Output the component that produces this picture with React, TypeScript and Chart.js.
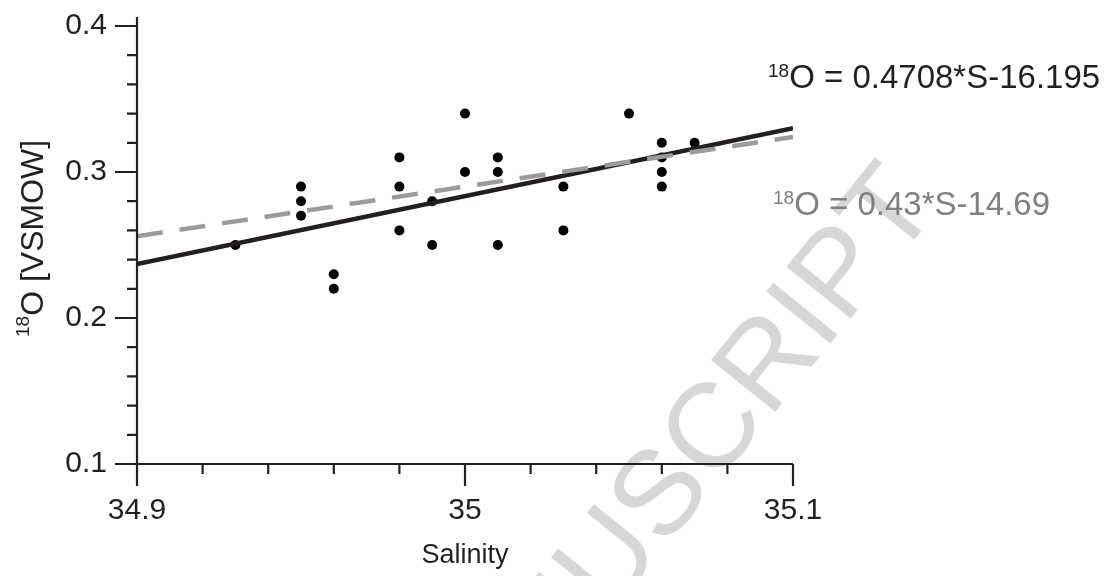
import React, { useEffect, useRef } from 'react';
import { Chart, registerables } from 'chart.js';

Chart.register(...registerables);

// ---- data ----
const salinity = [34.93, 34.95, 34.95, 34.95, 34.96, 34.96, 34.98, 34.98, 34.98, 34.99, 34.99, 35.0, 35.0, 35.01, 35.01, 35.01, 35.03, 35.03, 35.05, 35.06, 35.06, 35.06, 35.06, 35.07];
const delta18O = [0.25, 0.29, 0.28, 0.27, 0.23, 0.22, 0.31, 0.29, 0.26, 0.28, 0.25, 0.34, 0.3, 0.31, 0.3, 0.25, 0.29, 0.26, 0.34, 0.32, 0.31, 0.3, 0.29, 0.32];
const fitSalinity = [34.9, 35.1];
const fitBlack = [0.237, 0.33];
const fitGray = [0.256, 0.324];
const xMajorTicks = [34.9, 35, 35.1];
const yMajorTicks = [0.1, 0.2, 0.3, 0.4];
const eqBlack = ['18', 'O = 0.4708*S-16.195'];
const eqGray = ['18', 'O = 0.43*S-14.69'];
const yTitle = ['18', 'O [VSMOW]'];
const xTitle = 'Salinity';
const watermark = 'ACCEPTED MANUSCRIPT';

const FONT = '"Liberation Sans", Arial, Helvetica, sans-serif';
const INK = '#231f20';
const GRAY_LINE = '#9b9b9b';
const GRAY_TEXT = '#808080';
const WATERMARK = '#d7d7d7';

const isMajor = (v: number, list: number[]) => list.some((m) => Math.abs(m - v) < 1e-6);

function drawSup(ctx: CanvasRenderingContext2D, parts: string[], supSize: number, mainSize: number, raise: number) {
  ctx.textAlign = 'left';
  ctx.textBaseline = 'alphabetic';
  ctx.font = `${supSize}px ${FONT}`;
  ctx.fillText(parts[0], 0, -raise);
  const w = ctx.measureText(parts[0]).width;
  ctx.font = `${mainSize}px ${FONT}`;
  ctx.fillText(parts[1], w, 0);
}

const customPlugin = {
  id: 'customAxes',
  beforeDraw(chart: any) {
    const { ctx } = chart;
    ctx.save();
    ctx.translate(941, 207);
    ctx.rotate((-51 * Math.PI) / 180);
    ctx.font = `120px ${FONT}`;
    ctx.fillStyle = WATERMARK;
    ctx.textAlign = 'right';
    ctx.textBaseline = 'alphabetic';
    ctx.fillText(watermark, 0, 0);
    ctx.restore();
  },
  afterDraw(chart: any) {
    const { ctx, chartArea: a, scales } = chart;
    const x = scales.x;
    const y = scales.y;
    ctx.save();
    ctx.strokeStyle = INK;
    ctx.lineWidth = 2.2;
    ctx.lineCap = 'butt';
    ctx.beginPath();
    ctx.moveTo(a.left, a.top - 9);
    ctx.lineTo(a.left, a.bottom);
    ctx.lineTo(a.right, a.bottom);
    ctx.stroke();
    ctx.beginPath();
    x.ticks.forEach((t: any) => {
      const px = x.getPixelForValue(t.value);
      const len = isMajor(t.value, xMajorTicks) ? 22 : 10;
      ctx.moveTo(px, a.bottom);
      ctx.lineTo(px, a.bottom + len);
    });
    y.ticks.forEach((t: any) => {
      const py = y.getPixelForValue(t.value);
      const len = isMajor(t.value, yMajorTicks) ? 22 : 10;
      ctx.moveTo(a.left, py);
      ctx.lineTo(a.left - len, py);
    });
    ctx.stroke();

    // equations
    ctx.fillStyle = INK;
    ctx.save();
    ctx.translate(768, 88);
    drawSup(ctx, eqBlack, 19, 33, 11);
    ctx.restore();

    ctx.fillStyle = GRAY_TEXT;
    ctx.save();
    ctx.translate(773, 215);
    drawSup(ctx, eqGray, 19, 33, 11);
    ctx.restore();

    // y axis title
    ctx.fillStyle = INK;
    ctx.save();
    ctx.translate(43, 337);
    ctx.rotate(-Math.PI / 2);
    drawSup(ctx, yTitle, 19, 32, 14);
    ctx.restore();

    ctx.restore();
  },
};

export default function App() {
  const ref = useRef<HTMLCanvasElement | null>(null);
  useEffect(() => {
    if (!ref.current) return;
    const chart = new Chart(ref.current, {
      type: 'scatter',
      data: {
        datasets: [
          {
            label: 'fit (gray)',
            data: fitSalinity.map((s, i) => ({ x: s, y: fitGray[i] })),
            showLine: true,
            borderColor: GRAY_LINE,
            borderWidth: 4.5,
            borderDash: [26, 17],
            pointRadius: 0,
            order: 0,
          },
          {
            label: 'fit',
            data: fitSalinity.map((s, i) => ({ x: s, y: fitBlack[i] })),
            showLine: true,
            borderColor: INK,
            borderWidth: 4.5,
            pointRadius: 0,
            order: 1,
          },
          {
            label: 'samples',
            data: salinity.map((s, i) => ({ x: s, y: delta18O[i] })),
            showLine: false,
            pointRadius: 5,
            pointBackgroundColor: '#000',
            pointBorderWidth: 0,
            order: 2,
          },
        ],
      },
      options: {
        animation: false,
        responsive: true,
        maintainAspectRatio: false,
        layout: { padding: { left: 0, right: 318, top: 24, bottom: 0 } },
        plugins: { legend: { display: false }, tooltip: { enabled: false } },
        scales: {
          x: {
            type: 'linear',
            min: 34.9,
            max: 35.1,
            ticks: {
              stepSize: 0.02,
              autoSkip: false,
              maxRotation: 0,
              padding: 7,
              color: INK,
              font: { family: FONT, size: 30 },
              callback: (v: any) => (isMajor(Number(v), xMajorTicks) ? String(Math.round(Number(v) * 10) / 10) : ''),
            },
            grid: { drawOnChartArea: false, tickLength: 22, tickColor: 'rgba(0,0,0,0)' },
            border: { display: false },
            title: { display: true, text: xTitle, color: INK, font: { family: FONT, size: 27 }, padding: { top: 0, bottom: 4 } },
            afterFit: (s: any) => {
              s.height = 112;
            },
          },
          y: {
            type: 'linear',
            min: 0.1,
            max: 0.4,
            ticks: {
              stepSize: 0.02,
              autoSkip: false,
              padding: 8,
              color: INK,
              font: { family: FONT, size: 30 },
              callback: (v: any) => (isMajor(Number(v), yMajorTicks) ? Number(v).toFixed(1) : ''),
            },
            grid: { drawOnChartArea: false, tickLength: 22, tickColor: 'rgba(0,0,0,0)' },
            border: { display: false },
            afterFit: (s: any) => {
              s.width = 137;
            },
          },
        },
      },
      plugins: [customPlugin],
    });
    return () => chart.destroy();
  }, []);
  return (
    <div style={{ position: 'fixed', left: 0, top: 0, width: 1111, height: 576, background: '#fff' }}>
      <canvas ref={ref} />
    </div>
  );
}
